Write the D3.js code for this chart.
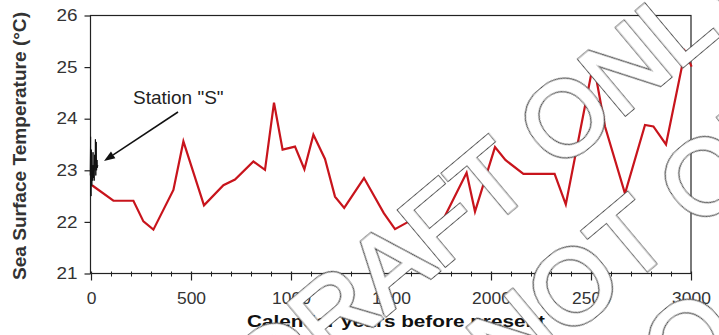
<!DOCTYPE html>
<html><head><meta charset="utf-8">
<script src="https://cdn.jsdelivr.net/npm/d3@7"></script>
<style>
html,body{margin:0;padding:0;background:#fff;}
svg{display:block;font-family:"Liberation Sans",Arial,Helvetica,sans-serif;}
</style></head>
<body>
<svg id="chart" width="719" height="335"></svg>
<script>
// ---- data ----
const seaYears = [5, 112, 212, 262, 312, 412, 462, 565, 662, 720, 812, 870, 915, 958, 1020, 1067, 1112, 1170, 1220, 1266, 1365, 1464, 1520, 1595, 1728, 1878, 1920, 2020, 2072, 2162, 2318, 2374, 2512, 2570, 2670, 2770, 2812, 2875, 2970, 3003];
const seaTemps = [22.71, 22.41, 22.41, 22.01, 21.85, 22.62, 23.56, 22.32, 22.71, 22.82, 23.17, 23.01, 24.31, 23.40, 23.46, 23.02, 23.69, 23.22, 22.49, 22.27, 22.85, 22.17, 21.86, 22.02, 21.79, 22.95, 22.20, 23.45, 23.20, 22.93, 22.93, 22.34, 25.08, 23.85, 22.55, 23.88, 23.85, 23.50, 25.30, 25.01];
const stationYears = [-4, -2, 0, 2, 4, 6, 8, 10, 12, 14, 16, 18, 20, 22, 24, 26, 28, 30, 32, 34];
const stationTemps = [22.9, 23.65, 22.5, 23.4, 22.7, 23.1, 22.8, 23.35, 22.85, 23.1, 22.8, 23.3, 23.0, 23.6, 22.9, 23.55, 23.0, 23.2, 23.05, 23.1];
const xTicks = [0, 500, 1000, 1500, 2000, 2500, 3000];
const yTicks = [21, 22, 23, 24, 25, 26];
const xLabel = "Calendar years before present";
const yLabel = "Sea Surface Temperature (°C)";
const stationLabel = 'Station "S"';
const watermarkLines = ["DRAFT ONLY", "DO NOT QUOTE", "DO NOT QUOTE"];

// ---- layout ----
const svg = d3.select("#chart");
const L = 90.5, R = 691, T = 15.5, B = 273.5;
const x = d3.scaleLinear().domain([0, 3000]).range([L + 0.5, R]);
const y = d3.scaleLinear().domain([21, 26]).range([B, T]);
const ink = "#222";

// outline filter for the watermark letters (white body, dark rim)
const flt = svg.append("defs").append("filter").attr("id", "wmOutline")
  .attr("x", "-10%").attr("y", "-30%").attr("width", "120%").attr("height", "160%");
flt.append("feMorphology").attr("in", "SourceAlpha").attr("operator", "dilate").attr("radius", 2).attr("result", "outer");
flt.append("feMorphology").attr("in", "SourceAlpha").attr("operator", "dilate").attr("radius", 1).attr("result", "inner");
flt.append("feFlood").attr("flood-color", "#555").attr("result", "dark");
flt.append("feComposite").attr("in", "dark").attr("in2", "outer").attr("operator", "in").attr("result", "rim");
flt.append("feFlood").attr("flood-color", "#fff").attr("result", "white");
flt.append("feComposite").attr("in", "white").attr("in2", "inner").attr("operator", "in").attr("result", "body");
const fm = flt.append("feMerge");
fm.append("feMergeNode").attr("in", "rim");
fm.append("feMergeNode").attr("in", "body");

// frame
svg.append("rect").attr("x", L).attr("y", T).attr("width", R - L).attr("height", B - T)
  .attr("fill", "none").attr("stroke", ink).attr("stroke-width", 1.2);

// y axis
const yAxis = svg.append("g").attr("transform", `translate(${L},0)`)
  .call(d3.axisLeft(y).tickValues(yTicks).tickSize(6).tickPadding(7).tickFormat(d3.format("d")));
yAxis.select(".domain").remove();
yAxis.selectAll(".tick line").attr("stroke", ink).attr("stroke-width", 1.2);
yAxis.selectAll(".tick text").attr("font-size", 16).attr("fill", "#333")
  .attr("font-family", "Liberation Sans, Arial, sans-serif")
  .attr("textLength", 21).attr("lengthAdjust", "spacingAndGlyphs");

// x axis: minor ticks every 100, major every 500
const xMinor = d3.range(0, 3001, 100).filter(v => v % 500 !== 0);
const gMinor = svg.append("g").attr("transform", `translate(0,${B})`)
  .call(d3.axisBottom(x).tickValues(xMinor).tickSize(4).tickFormat(""));
gMinor.select(".domain").remove();
gMinor.selectAll(".tick line").attr("stroke", ink).attr("stroke-width", 1).attr("y1", -2).attr("y2", 3);
const xAxis = svg.append("g").attr("transform", `translate(0,${B})`)
  .call(d3.axisBottom(x).tickValues(xTicks).tickSize(7).tickPadding(12).tickFormat(d3.format("d")));
xAxis.select(".domain").remove();
xAxis.selectAll(".tick line").attr("stroke", ink).attr("stroke-width", 1.2).attr("y1", -2);
xAxis.selectAll(".tick text").attr("font-size", 16).attr("fill", "#333")
  .attr("font-family", "Liberation Sans, Arial, sans-serif")
  .each(function(d){ d3.select(this).attr("textLength", String(d).length * 9.7).attr("lengthAdjust", "spacingAndGlyphs"); });

// axis titles
svg.append("text").attr("x", 247).attr("y", 327).attr("font-size", 17).attr("font-weight", "bold")
  .attr("fill", "#111").attr("textLength", 298).attr("lengthAdjust", "spacingAndGlyphs").text(xLabel);
svg.append("text").attr("transform", "translate(26,280) rotate(-90)").attr("font-size", 19)
  .attr("font-weight", "bold").attr("fill", "#333").attr("textLength", 268)
  .attr("lengthAdjust", "spacingAndGlyphs").text(yLabel);

// series
const line = d3.line().x(d => x(d[0])).y(d => y(d[1]));
svg.append("path").datum(seaYears.map((v, i) => [v, seaTemps[i]]))
  .attr("d", line).attr("fill", "none").attr("stroke", "#c8141c").attr("stroke-width", 2.2)
  .attr("stroke-linejoin", "miter");
svg.append("path").datum(stationYears.map((v, i) => [v, stationTemps[i]]))
  .attr("d", line).attr("fill", "none").attr("stroke", "#111").attr("stroke-width", 1);

// annotation
svg.append("text").attr("x", 133).attr("y", 104).attr("font-size", 19).attr("fill", "#222").text(stationLabel);
const ax1 = 178, ay1 = 112, ax2 = 104, ay2 = 161;
const ang = Math.atan2(ay2 - ay1, ax2 - ax1);
const hl = 11, hw = 4;
const bx = ax2 - hl * Math.cos(ang), by = ay2 - hl * Math.sin(ang);
svg.append("line").attr("x1", ax1).attr("y1", ay1).attr("x2", bx).attr("y2", by)
  .attr("stroke", "#111").attr("stroke-width", 1.5);
svg.append("path").attr("d", `M${ax2},${ay2}L${bx + hw * Math.sin(ang)},${by - hw * Math.cos(ang)}L${bx - hw * Math.sin(ang)},${by + hw * Math.cos(ang)}Z`)
  .attr("fill", "#111");

// watermark overlay: a chosen letter of each line is centred on a point
const wmSize = 104;
const wmAnchor = [[6, 564, 117], [4, 572, 285], [1, 688, 338]];
const wm = svg.append("g");
watermarkLines.forEach((t, i) => {
  const g = wm.append("g");
  const txt = g.append("text").attr("x", 0).attr("y", 0).attr("font-size", wmSize)
    .attr("font-family", "Liberation Sans, Arial, sans-serif")
    .attr("fill", "#fff").attr("filter", "url(#wmOutline)").text(t);
  const [ci, tx, ty] = wmAnchor[i];
  let cx = 0;
  const cy = -0.36 * wmSize;
  try {
    const ext = txt.node().getExtentOfChar(ci);
    cx = ext.x + ext.width / 2;
  } catch (e) {}
  g.attr("transform", `translate(${tx},${ty}) rotate(-40) translate(${-cx},${-cy})`);
});
</script>
</body></html>
